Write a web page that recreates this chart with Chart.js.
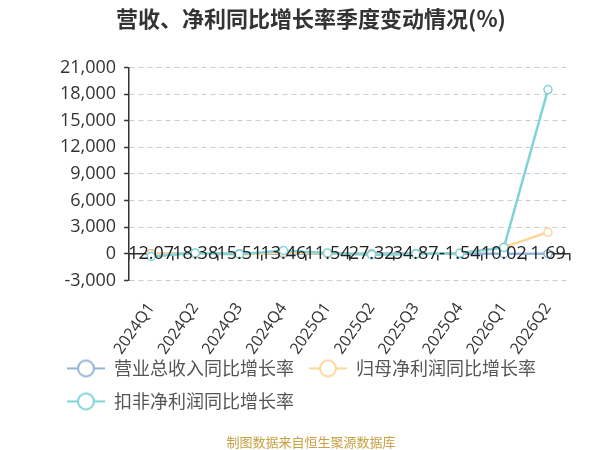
<!DOCTYPE html>
<html>
<head>
<meta charset="utf-8">
<script src="https://cdn.jsdelivr.net/npm/chart.js@4/dist/chart.umd.min.js"></script>
<style>
html,body{margin:0;padding:0;background:#fff;}
#wrap{width:600px;height:450px;}
</style>
</head>
<body>
<div id="wrap"><canvas id="c" width="600" height="450"></canvas></div>
<script>
const categories = ['2024Q1','2024Q2','2024Q3','2024Q4','2025Q1','2025Q2','2025Q3','2025Q4','2026Q1','2026Q2'];
const revenueGrowth = [12.07, 18.38, 15.51, 13.46, 11.54, 27.32, 34.87, -1.54, 10.02, 1.69];
const netProfitGrowth = [-60, 20, -80, 150, 30, -60, -20, 80, 750, 2420];
const deductedProfitGrowth = [-300, 100, -50, 370, 100, -100, -30, 50, 700, 18500];
const seriesNames = ['营业总收入同比增长率', '归母净利润同比增长率', '扣非净利润同比增长率'];
const seriesColors = ['#92b4d6', '#fcd79a', '#80d4d8'];
const yTicks = { min: -3000, max: 21000, step: 3000 };

function legendIcon(color) {
  const cv = document.createElement('canvas');
  cv.width = 38; cv.height = 20;
  const g = cv.getContext('2d');
  g.strokeStyle = color; g.lineWidth = 2;
  g.beginPath(); g.moveTo(0, 10); g.lineTo(38, 10); g.stroke();
  g.beginPath(); g.arc(19, 10, 8, 0, Math.PI * 2);
  g.fillStyle = '#fff'; g.fill(); g.stroke();
  return cv;
}
const icons = seriesColors.map(legendIcon);

const valueLabels = {
  id: 'valueLabels',
  afterDatasetsDraw(chart) {
    const ctx = chart.ctx;
    const xs = chart.scales.x, ys = chart.scales.y;
    ctx.save();
    ctx.font = '18px "Open Sans", "Noto Sans", sans-serif';
    ctx.fillStyle = '#222';
    ctx.textAlign = 'center';
    ctx.textBaseline = 'middle';
    revenueGrowth.forEach((v, i) => {
      ctx.fillText(v.toFixed(2), xs.getPixelForValue(i), ys.getPixelForValue(v));
    });
    ctx.restore();
  }
};

function ds(i, data, order) {
  return {
    label: seriesNames[i],
    data: data,
    borderColor: seriesColors[i],
    backgroundColor: '#fff',
    pointBackgroundColor: '#fff',
    pointBorderColor: seriesColors[i],
    pointRadius: 4,
    pointBorderWidth: 1.5,
    borderWidth: 2.5,
    tension: 0,
    order: order
  };
}

new Chart(document.getElementById('c'), {
  type: 'line',
  data: {
    labels: categories,
    datasets: [ds(0, revenueGrowth, 2), ds(1, netProfitGrowth, 1), ds(2, deductedProfitGrowth, 0)]
  },
  options: {
    responsive: false,
    animation: false,
    devicePixelRatio: 1,
    layout: { padding: { left: 52, right: 30, top: 4, bottom: 0 } },
    plugins: {
      title: {
        display: true,
        text: '营收、净利同比增长率季度变动情况(%)',
        color: '#333',
        font: { size: 22, weight: 'bold', family: '"Noto Sans CJK SC", sans-serif' },
        padding: { top: 1, bottom: 36 }
      },
      subtitle: {
        display: true,
        position: 'bottom',
        text: '制图数据来自恒生聚源数据库',
        color: '#c9a044',
        font: { size: 13, family: '"Noto Sans CJK SC", sans-serif' },
        padding: { top: 14, bottom: 0 }
      },
      legend: {
        position: 'bottom',
        align: 'start',
        labels: {
          usePointStyle: true,
          pointStyleWidth: 38,
          padding: 15,
          color: '#555',
          font: { size: 18, family: '"Noto Sans CJK SC", sans-serif' },
          generateLabels(chart) {
            return chart.data.datasets.map((d, i) => ({
              text: d.label,
              pointStyle: icons[i],
              fillStyle: '#fff',
              strokeStyle: seriesColors[i],
              lineWidth: 0,
              hidden: false,
              datasetIndex: i,
              fontColor: '#555'
            }));
          }
        }
      },
      tooltip: { enabled: false }
    },
    scales: {
      x: {
        type: 'category',
        offset: true,
        grid: { display: false },
        border: { display: false },
        afterFit(scale) {
          scale.height = 64;
          scale._computeLabelArea = () => undefined;
        },
        ticks: {
          color: '#333',
          font: { size: 16, family: '"Open Sans", sans-serif' },
          minRotation: 55,
          maxRotation: 55,
          autoSkip: false,
          padding: 11
        }
      },
      x2: {
        type: 'category',
        position: { y: 0 },
        offset: true,
        grid: { drawOnChartArea: false, offset: true, color: '#333', tickLength: 6, lineWidth: 1.5 },
        border: { display: true, color: '#333', width: 1.5 },
        ticks: { display: false, autoSkip: false }
      },
      y: {
        min: yTicks.min,
        max: yTicks.max,
        ticks: {
          stepSize: yTicks.step,
          autoSkip: false,
          color: '#333',
          font: { size: 18, family: '"Open Sans", sans-serif' },
          padding: 8
        },
        grid: { color: '#ccc', drawTicks: true, tickLength: 5, tickColor: '#333', tickWidth: 1.5 },
        border: { display: true, color: '#333', width: 1.5, dash: [5, 4] }
      }
    }
  },
  plugins: [valueLabels]
});
</script>
</body>
</html>
